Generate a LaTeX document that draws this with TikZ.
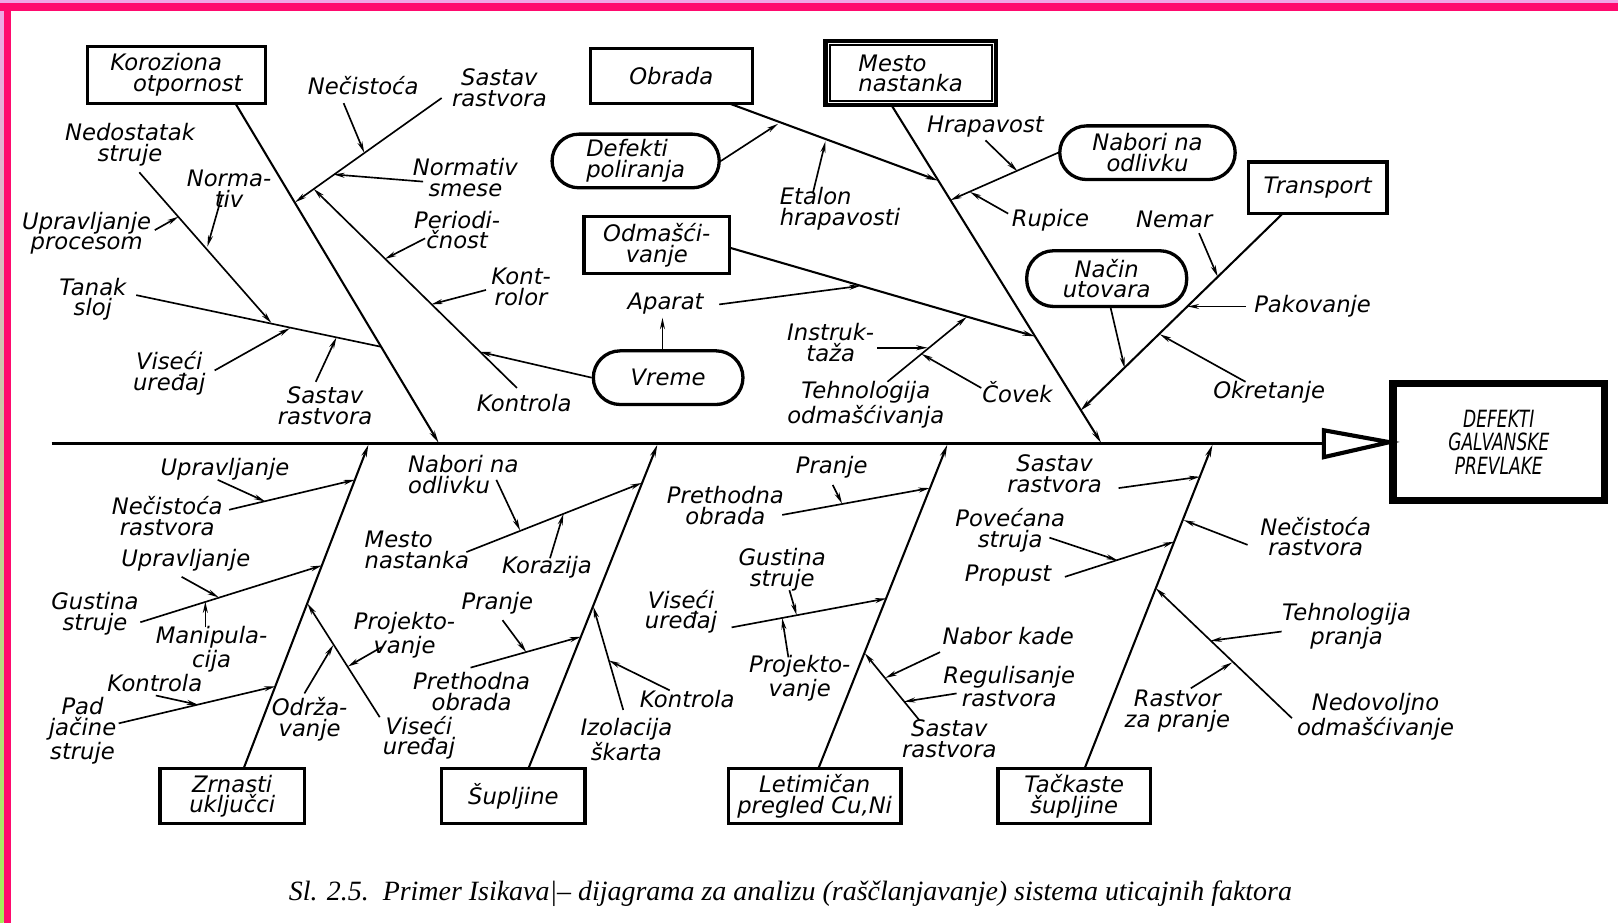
\documentclass[tikz,border=0pt]{standalone}
\usepackage{fontspec}
\usepackage{graphicx}
\usetikzlibrary{arrows.meta,calc}
\newfontfamily\labfont{DejaVu Sans}
\newfontfamily\capfont{Liberation Serif}
\definecolor{hotpink}{HTML}{FF0A6E}
\definecolor{lightpink}{HTML}{EFA6E6}
\definecolor{limeg}{HTML}{A4EE58}
\begin{document}
\begin{tikzpicture}[x=0.5pt,y=-0.5pt,
  lbl/.style={font=\labfont\itshape\fontsize{11}{10}\selectfont, align=center, inner sep=0pt},
  box/.style={lbl, draw, line width=1.6pt, minimum height=26.5pt},
  rbox/.style={box, rounded corners=13pt, minimum height=26pt},
  bone/.style={line width=1pt, -{Stealth[length=6pt,width=2.6pt]}},
  twig/.style={line width=0.8pt, -{Stealth[length=5.5pt,width=2.4pt]}},
  twigline/.style={line width=0.8pt}]
\useasboundingbox (0,0) rectangle (1568,894);
\fill[white] (0,0) rectangle (1568,894);
% frame
\fill[lightpink] (0,0) rectangle (1568,3);
\shade[top color=lightpink, bottom color=limeg] (0,0) rectangle (3.5,894);
\fill[hotpink] (0,3) rectangle (1568,10.7);
\fill[hotpink] (3.5,3) rectangle (11,894);

% ---------- boxes ----------
\node[box, minimum width=86pt, minimum height=27.5pt, align=left] (kor) at (171,72.5) {Koroziona\\\hspace*{11pt}otpornost};
\node[box, minimum width=78.5pt] (obr) at (650.5,73.5) {Obrada};
\node[box, minimum width=82.5pt, minimum height=31pt, line width=2pt, align=left] (mes) at (882.5,71) {Mesto\\nastanka};
\draw[line width=1pt] ($(mes.north west)+(6,6)$) rectangle ($(mes.south east)+(-6,-6)$);
\node[box, minimum width=70.5pt, minimum height=27.5pt] (odm) at (636.5,237.5) {Odmašći-\\vanje};
\node[box, minimum width=67pt, minimum height=25pt] (tra) at (1277,182) {Transport};
\node[rbox, minimum width=81pt, align=left] (dpo) at (616,156) {Defekti\\poliranja};
\node[rbox, minimum width=72.5pt] (vre) at (647.5,366) {Vreme};
\node[rbox, minimum width=85pt] (nab) at (1112,148) {Nabori na\\odlivku};
\node[rbox, minimum width=77.5pt, minimum height=27pt] (nac) at (1072.5,270) {Način\\utovara};
\node[box, minimum width=70pt] (zrn) at (225,771.5) {Zrnasti\\uključci};
\node[box, minimum width=69.5pt] (sup) at (497.5,771.5) {Šupljine};
\node[box, minimum width=83.5pt] (let) at (789.5,771.5) {Letimičan\\pregled Cu,Ni};
\node[box, minimum width=74pt] (tac) at (1041,771.5) {Tačkaste\\šupljine};
\node[draw, line width=3.5pt, minimum width=102.5pt, minimum height=56.5pt, inner sep=0pt, align=center,
      font=\labfont\itshape\fontsize{11.5}{11.5}\selectfont] (def) at (1452.5,428.5)
      {\scalebox{0.72}[1]{DEFEKTI}\\\scalebox{0.72}[1]{GALVANSKE}\\\scalebox{0.72}[1]{PREVLAKE}};

% ---------- labels ----------
\node[lbl] (l_nec) at (352,83) {Nečistoća};
\node[lbl] (l_sr1) at (484,85) {Sastav\\rastvora};
\node[lbl] (l_nsm) at (451,172) {Normativ\\smese};
\node[lbl] (l_per) at (443,223) {Periodi-\\čnost};
\node[lbl] (l_kro) at (505,278) {Kont-\\rolor};
\node[lbl] (l_ko1) at (508,391) {Kontrola};
\node[lbl] (l_ned) at (126,140) {Nedostatak\\struje};
\node[lbl] (l_nor) at (222,183) {Norma-\\tiv};
\node[lbl] (l_upp) at (84,226) {Upravljanje\\procesom};
\node[lbl] (l_tan) at (90,290) {Tanak\\sloj};
\node[lbl] (l_vi1) at (164,362) {Viseći\\uređaj};
\node[lbl] (l_sa1) at (315,393) {Sastav\\rastvora};
\node[lbl, align=left] (l_eta) at (814,202) {Etalon\\hrapavosti};
\node[lbl] (l_apa) at (645,294) {Aparat};
\node[lbl] (l_ins) at (805,332) {Instruk-\\taža};
\node[lbl] (l_teh) at (839,392) {Tehnologija\\odmašćivanja};
\node[lbl] (l_cov) at (986,380) {Čovek};
\node[lbl] (l_hra) at (955,123) {Hrapavost};
\node[lbl] (l_rup) at (1018,213) {Rupice};
\node[lbl] (l_nem) at (1138,213) {Nemar};
\node[lbl] (l_pak) at (1272,297) {Pakovanje};
\node[lbl] (l_okr) at (1230,380) {Okretanje};
\node[lbl] (l_up1) at (218,455) {Upravljanje};
\node[lbl] (l_nr1) at (162,500) {Nečistoća\\rastvora};
\node[lbl] (l_up2) at (180,543) {Upravljanje};
\node[lbl] (l_gu1) at (92,595) {Gustina\\struje};
\node[lbl] (l_man) at (205,629) {Manipula-\\cija};
\node[lbl] (l_ko2) at (150,662) {Kontrola};
\node[lbl] (l_pad) at (80,708) {Pad\\jačine\\struje};
\node[lbl] (l_odr) at (300,697) {Održa-\\vanje};
\node[lbl] (l_vi2) at (406,715) {Viseći\\uređaj};
\node[lbl] (l_pj1) at (392,616) {Projekto-\\vanje};
\node[lbl, align=left] (l_nbo) at (449,460) {Nabori na\\odlivku};
\node[lbl, align=left] (l_mes) at (404,533) {Mesto\\nastanka};
\node[lbl] (l_kor) at (530,550) {Korazija};
\node[lbl] (l_pr1) at (482,585) {Pranje};
\node[lbl] (l_pro1) at (457,670) {Prethodna\\obrada};
\node[lbl] (l_izo) at (607,717) {Izolacija\\škarta};
\node[lbl] (l_ko3) at (666,677) {Kontrola};
\node[lbl] (l_pr2) at (806,453) {Pranje};
\node[lbl] (l_pro2) at (703,490) {Prethodna\\obrada};
\node[lbl] (l_gu2) at (758,552) {Gustina\\struje};
\node[lbl] (l_vi3) at (660,593) {Viseći\\uređaj};
\node[lbl] (l_pj2) at (775,657) {Projekto-\\vanje};
\node[lbl] (l_sa2) at (920,716) {Sastav\\rastvora};
\node[lbl] (l_nka) at (977,616) {Nabor kade};
\node[lbl] (l_reg) at (978,665) {Regulisanje\\rastvora};
\node[lbl] (l_sa3) at (1022,459) {Sastav\\rastvora};
\node[lbl] (l_pov) at (979,514) {Povećana\\struja};
\node[lbl] (l_pru) at (977,558) {Propust};
\node[lbl] (l_nr2) at (1275,520) {Nečistoća\\rastvora};
\node[lbl] (l_tpr) at (1305,607) {Tehnologija\\pranja};
\node[lbl] (l_rpr) at (1141,689) {Rastvor\\za pranje};
\node[lbl] (l_ndo) at (1333,695) {Nedovoljno\\odmašćivanje};

\node[font=\capfont\itshape, inner sep=0pt] (cap) at (766,866)
  {\resizebox{486pt}{!}{Sl. 2.5.\ \ Primer Isikava|– dijagrama za analizu (raščlanjavanje) sistema uticajnih faktora}};

% ---------- coordinates ----------
\coordinate (sp0) at (50,430); \coordinate (sp1) at (1283,430);
\coordinate (kb) at (228,100); \coordinate (jk) at (425,429);
\coordinate (s1a) at (428,95); \coordinate (s1b) at (286,196);
\coordinate (nca) at (333,100); \coordinate (ncb) at (353,148);
\coordinate (nsa) at (410,176); \coordinate (nsb) at (323,169);
\coordinate (k1a) at (501,376); \coordinate (k1b) at (304,183);
\coordinate (pea) at (412,231); \coordinate (peb) at (373,251);
\coordinate (kra) at (471,281); \coordinate (krb) at (418,295);
\coordinate (vrb) at (465,341);
\coordinate (n1a) at (135,167); \coordinate (n1b) at (263,313);
\coordinate (t1a) at (132,286); \coordinate (t1b) at (369,336);
\coordinate (nma) at (215,190); \coordinate (nmb) at (201,239);
\coordinate (upa) at (150,223); \coordinate (upb) at (173,210);
\coordinate (via) at (208,359); \coordinate (vib) at (281,318);
\coordinate (saa) at (306,370); \coordinate (sab) at (326,327);

\coordinate (mb) at (864,102); \coordinate (jm) at (1067,429);
\coordinate (ob) at (706,100); \coordinate (jo) at (909,175);
\coordinate (dpb) at (754,120);
\coordinate (eta) at (788,186); \coordinate (etb) at (800,137);
\coordinate (jn) at (921,194);
\coordinate (hra) at (955,136); \coordinate (hrb) at (986,166);
\coordinate (rua) at (977,207); \coordinate (rub) at (940,186);
\coordinate (odb) at (707,240); \coordinate (jodm) at (1003,326);
\coordinate (apa) at (697,295); \coordinate (apb) at (834,277);
\coordinate (vra) at (642,340); \coordinate (vrc) at (642,308);
\coordinate (toa) at (860,370); \coordinate (tob) at (937,307);
\coordinate (ina) at (850,337); \coordinate (inb) at (899,337);
\coordinate (cva) at (951,376); \coordinate (cvb) at (893,343);

\coordinate (tb) at (1243,207); \coordinate (jtr) at (1047,398);
\coordinate (nea) at (1162,226); \coordinate (neb) at (1180,268);
\coordinate (paa) at (1207,297); \coordinate (pab) at (1151,297);
\coordinate (nua) at (1076,297); \coordinate (nub) at (1090,357);
\coordinate (oka) at (1207,370); \coordinate (okb) at (1124,324);

\coordinate (zb) at (236,745); \coordinate (jz) at (357,431);
\coordinate (nra) at (222,494); \coordinate (nrb) at (344,465);
\coordinate (u1a) at (211,465); \coordinate (u1b) at (257,486);
\coordinate (gsa) at (136,603); \coordinate (gsb) at (312,548);
\coordinate (u2a) at (176,559); \coordinate (u2b) at (212,579);
\coordinate (mna) at (199,608); \coordinate (mnb) at (199,583);
\coordinate (pda) at (115,701); \coordinate (pdb) at (267,665);
\coordinate (kta) at (151,674); \coordinate (ktb) at (192,683);
\coordinate (vsa) at (368,695); \coordinate (vsb) at (298,585);
\coordinate (oda) at (295,672); \coordinate (odc) at (323,625);
\coordinate (pja) at (370,627); \coordinate (pjb) at (337,646);

\coordinate (sb) at (512,745); \coordinate (js) at (637,431);
\coordinate (msa) at (452,535); \coordinate (msb) at (622,468);
\coordinate (nba) at (481,465); \coordinate (nbb) at (504,514);
\coordinate (koa) at (533,541); \coordinate (kob) at (546,498);
\coordinate (poa) at (456,647); \coordinate (pob) at (563,617);
\coordinate (pra) at (487,601); \coordinate (prb) at (510,632);
\coordinate (iza) at (604,688); \coordinate (izb) at (575,588);
\coordinate (k2a) at (649,669); \coordinate (k2b) at (590,640);

\coordinate (lb) at (793,745); \coordinate (jl) at (918,431);
\coordinate (p2a) at (758,499); \coordinate (p2b) at (901,473);
\coordinate (r2a) at (807,470); \coordinate (r2b) at (816,488);
\coordinate (v2a) at (709,608); \coordinate (v2b) at (859,580);
\coordinate (g2a) at (765,572); \coordinate (g2b) at (772,596);
\coordinate (j2a) at (764,637); \coordinate (j2b) at (758,599);
\coordinate (sra) at (891,698); \coordinate (srb) at (838,633);
\coordinate (nka) at (911,632); \coordinate (nkb) at (858,657);
\coordinate (rga) at (927,672); \coordinate (rgb) at (876,680);

\coordinate (tcb) at (1051,745); \coordinate (jt) at (1175,431);
\coordinate (s3a) at (1084,473); \coordinate (s3b) at (1163,462);
\coordinate (ppa) at (1032,559); \coordinate (ppb) at (1138,525);
\coordinate (pva) at (1017,521); \coordinate (pvb) at (1083,543);
\coordinate (n3a) at (1209,528); \coordinate (n3b) at (1147,504);
\coordinate (nda) at (1252,696); \coordinate (ndb) at (1120,570);
\coordinate (tpa) at (1242,612); \coordinate (tpb) at (1173,621);
\coordinate (rpa) at (1154,667); \coordinate (rpb) at (1194,642);

% ---------- spine ----------
\draw[line width=1.7pt] (sp0) -- (sp1);
\draw[line width=2pt, line join=miter] (1283,417) -- (def.west) -- (1283,443) -- cycle;

% ---------- bones ----------
\draw[bone] (kb) -- (jk);
\draw[bone] (mb) -- (jm);
\draw[bone] (ob) -- (jo);
\draw[bone] (odb) -- (jodm);
\draw[bone] (tb) -- (jtr);
\draw[bone] (zb) -- (jz);
\draw[bone] (sb) -- (js);
\draw[bone] (lb) -- (jl);
\draw[bone] (tcb) -- (jt);

% ---------- twigs top-left ----------
\draw[twig] (s1a) -- (s1b);
\draw[twig] (nca) -- (ncb);
\draw[twig] (nsa) -- (nsb);
\draw[twig] (k1a) -- (k1b);
\draw[twig] (pea) -- (peb);
\draw[twig] (kra) -- (krb);
\draw[twig] (vre.west) -- (vrb);
\draw[twig] (n1a) -- (n1b);
\draw[twigline] (t1a) -- (t1b);
\draw[twig] (nma) -- (nmb);
\draw[twig] (upa) -- (upb);
\draw[twig] (via) -- (vib);
\draw[twig] (saa) -- (sab);
% top-middle
\draw[twig] (dpo.east) -- (dpb);
\draw[twig] (eta) -- (etb);
\draw[twig] (nab.west) -- (jn);
\draw[twig] (hra) -- (hrb);
\draw[twig] (rua) -- (rub);
\draw[twig] (apa) -- (apb);
\draw[twig] (vra) -- (vrc);
\draw[twig] (toa) -- (tob);
\draw[twig] (ina) -- (inb);
\draw[twig] (cva) -- (cvb);
% top-right
\draw[twig] (nea) -- (neb);
\draw[twig] (paa) -- (pab);
\draw[twig] (nua) -- (nub);
\draw[twig] (oka) -- (okb);
% bottom-left
\draw[twig] (nra) -- (nrb);
\draw[twig] (u1a) -- (u1b);
\draw[twig] (gsa) -- (gsb);
\draw[twig] (u2a) -- (u2b);
\draw[twig] (mna) -- (mnb);
\draw[twig] (pda) -- (pdb);
\draw[twig] (kta) -- (ktb);
\draw[twig] (vsa) -- (vsb);
\draw[twig] (oda) -- (odc);
\draw[twig] (pja) -- (pjb);
% Supljine
\draw[twig] (msa) -- (msb);
\draw[twig] (nba) -- (nbb);
\draw[twig] (koa) -- (kob);
\draw[twig] (poa) -- (pob);
\draw[twig] (pra) -- (prb);
\draw[twig] (iza) -- (izb);
\draw[twig] (k2a) -- (k2b);
% Letimican
\draw[twig] (p2a) -- (p2b);
\draw[twig] (r2a) -- (r2b);
\draw[twig] (v2a) -- (v2b);
\draw[twig] (g2a) -- (g2b);
\draw[twig] (j2a) -- (j2b);
\draw[twig] (sra) -- (srb);
\draw[twig] (nka) -- (nkb);
\draw[twig] (rga) -- (rgb);
% Tackaste
\draw[twig] (s3a) -- (s3b);
\draw[twig] (ppa) -- (ppb);
\draw[twig] (pva) -- (pvb);
\draw[twig] (n3a) -- (n3b);
\draw[twig] (nda) -- (ndb);
\draw[twig] (tpa) -- (tpb);
\draw[twig] (rpa) -- (rpb);
\end{tikzpicture}
\end{document}
